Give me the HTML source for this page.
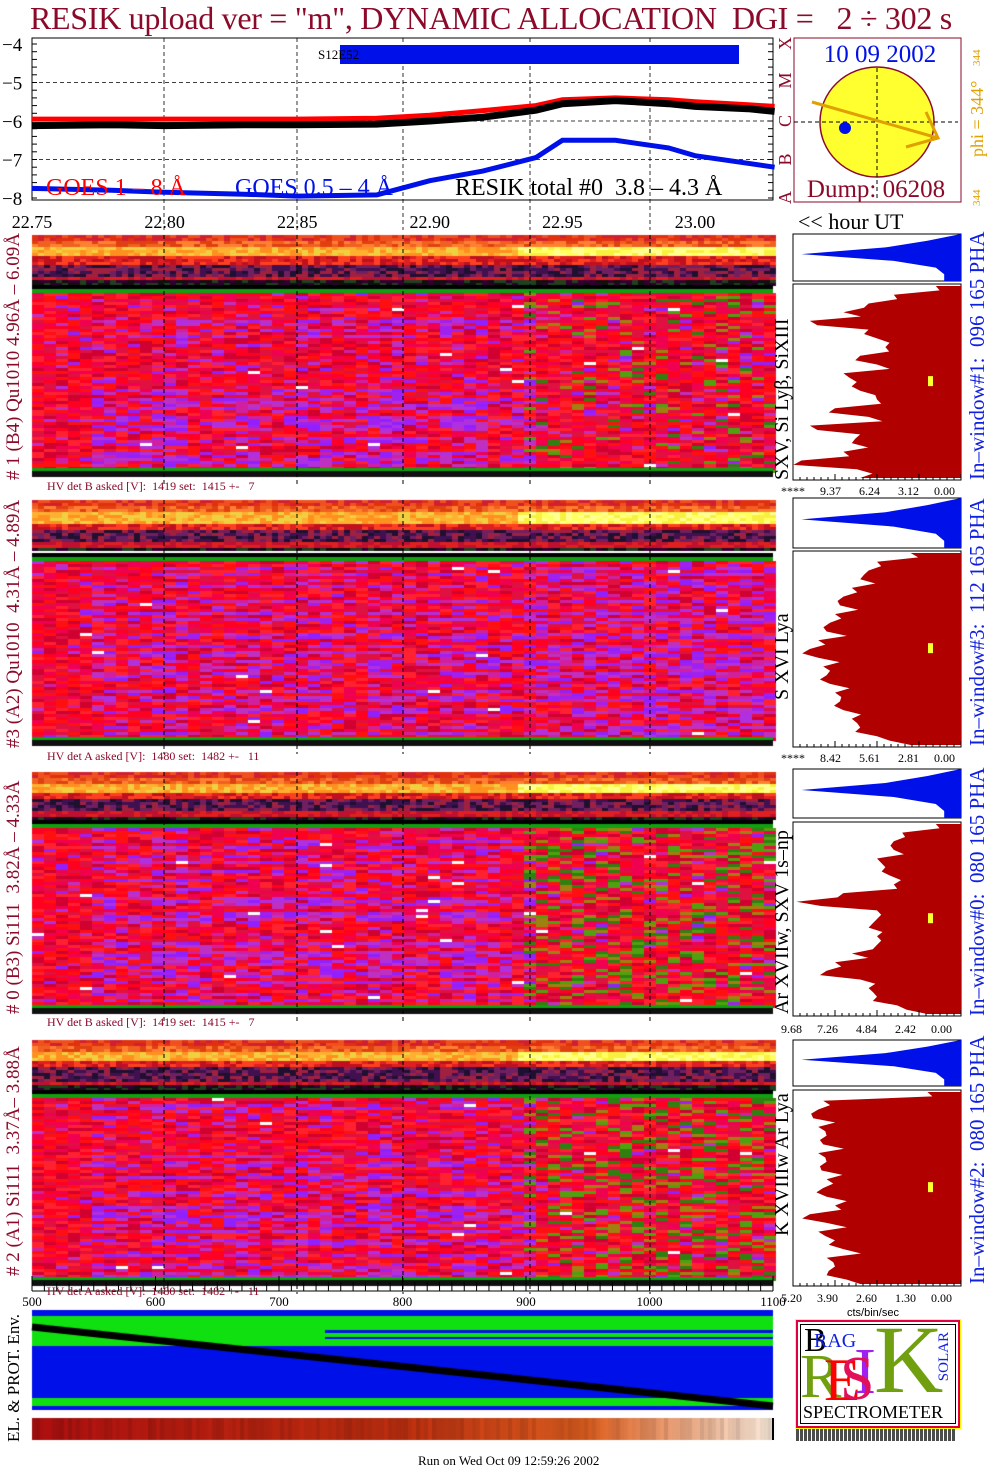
<!DOCTYPE html>
<html><head><meta charset="utf-8">
<style>
html,body{margin:0;padding:0;background:#fff;}
body{width:1004px;height:1476px;position:relative;overflow:hidden;font-family:"Liberation Serif",serif;}
.t{position:absolute;white-space:nowrap;}
canvas{position:absolute;}
.rot{position:absolute;transform-origin:0 0;transform:rotate(-90deg);white-space:nowrap;}
</style></head>
<body>
<div class="t" style="left:30px;top:0px;font-size:32px;color:#8b0a2a;letter-spacing:-0.3px;">RESIK upload ver = "m", DYNAMIC ALLOCATION&nbsp; DGI =&nbsp;&nbsp; 2 ÷ 302 s</div>

<svg id="goes" style="position:absolute;left:0;top:0" width="1004" height="235"></svg>

<canvas id="hm" width="1004" height="1476" style="left:0;top:0"></canvas>
<svg id="ov" style="position:absolute;left:0;top:0" width="1004" height="1476"></svg>

<div class="t" style="left:47px;top:479px;font-size:12px;color:#8b0a2a;">HV det B asked [V]:&nbsp; 1419 set:&nbsp; 1415 +-&nbsp;&nbsp; 7</div>
<div class="t" style="left:47px;top:749px;font-size:12px;color:#8b0a2a;">HV det A asked [V]:&nbsp; 1480 set:&nbsp; 1482 +-&nbsp;&nbsp; 11</div>
<div class="t" style="left:47px;top:1015px;font-size:12px;color:#8b0a2a;">HV det B asked [V]:&nbsp; 1419 set:&nbsp; 1415 +-&nbsp;&nbsp; 7</div>
<div class="t" style="left:47px;top:1284px;font-size:12px;color:#8b0a2a;">HV det A asked [V]:&nbsp; 1480 set:&nbsp; 1482 +-&nbsp;&nbsp; 11</div>

<div class="rot" style="left:3px;top:480px;font-size:19px;color:#8b0a2a;"># 1 (B4) Qu1010 4.96Å – 6.09Å</div>
<div class="rot" style="left:3px;top:748px;font-size:19px;color:#8b0a2a;">#3 (A2) Qu1010&nbsp; 4.31Å – 4.89Å</div>
<div class="rot" style="left:3px;top:1014px;font-size:19px;color:#8b0a2a;"># 0 (B3) Si111&nbsp; 3.82Å – 4.33Å</div>
<div class="rot" style="left:3px;top:1276px;font-size:19px;color:#8b0a2a;"># 2 (A1) Si111&nbsp; 3.37Å– 3.88Å</div>
<div class="rot" style="left:4px;top:1442px;font-size:17px;color:#000;">EL. &amp; PROT. Env.</div>

<div class="rot" style="left:771px;top:480px;font-size:20px;">SXV, Si Lyβ, SiXIII</div>
<div class="rot" style="left:771px;top:700px;font-size:20px;">S XVI Lya</div>
<div class="rot" style="left:771px;top:1014px;font-size:20px;">Ar XVIIw, SXV 1s–np</div>
<div class="rot" style="left:771px;top:1236px;font-size:20px;">K XVIIIw Ar Lya</div>

<div class="rot" style="left:965px;top:480px;font-size:21px;color:#1020e0;">In–window#1:&nbsp; 096 165 PHA</div>
<div class="rot" style="left:965px;top:746px;font-size:21px;color:#1020e0;">In–window#3:&nbsp; 112 165 PHA</div>
<div class="rot" style="left:965px;top:1016px;font-size:21px;color:#1020e0;">In–window#0:&nbsp; 080 165 PHA</div>
<div class="rot" style="left:965px;top:1284px;font-size:21px;color:#1020e0;">In–window#2:&nbsp; 080 165 PHA</div>

<div class="t" style="left:781px;top:484px;font-size:12px;">****&nbsp;&nbsp;&nbsp;&nbsp; 9.37&nbsp;&nbsp;&nbsp;&nbsp;&nbsp; 6.24&nbsp;&nbsp;&nbsp;&nbsp;&nbsp; 3.12&nbsp;&nbsp;&nbsp;&nbsp; 0.00</div>
<div class="t" style="left:781px;top:751px;font-size:12px;">****&nbsp;&nbsp;&nbsp;&nbsp; 8.42&nbsp;&nbsp;&nbsp;&nbsp;&nbsp; 5.61&nbsp;&nbsp;&nbsp;&nbsp;&nbsp; 2.81&nbsp;&nbsp;&nbsp;&nbsp; 0.00</div>
<div class="t" style="left:781px;top:1022px;font-size:12px;">9.68&nbsp;&nbsp;&nbsp;&nbsp; 7.26&nbsp;&nbsp;&nbsp;&nbsp;&nbsp; 4.84&nbsp;&nbsp;&nbsp;&nbsp;&nbsp; 2.42&nbsp;&nbsp;&nbsp;&nbsp; 0.00</div>
<div class="t" style="left:781px;top:1291px;font-size:12px;">5.20&nbsp;&nbsp;&nbsp;&nbsp; 3.90&nbsp;&nbsp;&nbsp;&nbsp;&nbsp; 2.60&nbsp;&nbsp;&nbsp;&nbsp;&nbsp; 1.30&nbsp;&nbsp;&nbsp;&nbsp; 0.00</div>
<div class="t" style="left:847px;top:1307px;font-size:11px;font-family:'Liberation Sans',sans-serif;">cts/bin/sec</div>

<div class="t" style="left:418px;top:1453px;font-size:13px;">Run on Wed Oct 09 12:59:26 2002</div>

<div style="position:absolute;left:796px;top:1320px;width:160px;height:104px;border:2px solid #e00040;outline:1px solid #ff0;background:#fff;overflow:hidden;">
 <div style="position:absolute;left:2px;top:2px;right:2px;bottom:2px;border:1px solid #000;"></div>
 <div class="t" style="left:6px;top:0px;font-size:34px;color:#000;">B</div>
 <div class="t" style="left:16px;top:8px;font-size:20px;color:#1020e0;">RAG</div>
 <div class="t" style="left:2px;top:20px;font-size:62px;color:#70a010;">R</div>
 <div class="t" style="left:26px;top:24px;font-size:60px;color:#f00;">E</div>
 <div class="t" style="left:56px;top:12px;font-size:66px;color:#a020f0;">I</div>
 <div class="t" style="left:42px;top:22px;font-size:62px;color:#e0105a;">S</div>
 <div class="t" style="left:76px;top:-10px;font-size:96px;color:#70a010;line-height:96px;">K</div>
 <div class="t" style="left:138px;top:10px;font-size:15px;color:#1020e0;writing-mode:vertical-rl;transform:rotate(180deg);">SOLAR</div>
 <div class="t" style="left:5px;top:80px;font-size:18px;color:#000;">SPECTROMETER</div>
</div>
<div style="position:absolute;left:796px;top:1429px;width:160px;height:12px;background:repeating-linear-gradient(90deg,#000 0 3px,#fff 3px 4px);opacity:.7;"></div>

<script>
// ---- GOES / RESIK light-curve data ----
const tHours   = [22.75,22.78,22.80,22.83,22.85,22.88,22.90,22.92,22.94,22.95,22.97,22.99,23.00,23.02,23.03];
const goesLong = [-5.95,-5.95,-5.95,-5.95,-5.95,-5.93,-5.85,-5.73,-5.6,-5.45,-5.4,-5.45,-5.5,-5.58,-5.62];
const goesShort= [-7.75,-7.8,-7.85,-7.9,-7.95,-7.92,-7.55,-7.3,-6.95,-6.5,-6.5,-6.7,-6.9,-7.1,-7.2];
const resikTot = [-6.12,-6.1,-6.12,-6.1,-6.1,-6.08,-6.0,-5.9,-5.72,-5.55,-5.47,-5.55,-5.62,-5.68,-5.75];
const xTicks   = ["22.75","22.80","22.85","22.90","22.95","23.00"];
const yTicks   = [-4,-5,-6,-7,-8];
const classLetters = ["A","B","C","M","X"];

const NS="http://www.w3.org/2000/svg";
function mk(p,tag,attrs){const e=document.createElementNS(NS,tag);for(const k in attrs)e.setAttribute(k,attrs[k]);p.appendChild(e);return e;}
const sx=t=>32+(t-22.75)/0.05*132.6;
const sy=v=>44+(-4-v)*38.5;
const g=document.getElementById('goes');
let r=mk(g,'rect',{x:32,y:38,width:741,height:162,fill:'none',stroke:'#000'});

[164,297,403,530,650].forEach(x=>mk(g,'line',{x1:x,y1:38,x2:x,y2:230,stroke:'#000','stroke-dasharray':'4,3','stroke-width':0.8}));
[-5,-6,-7].forEach(v=>mk(g,'line',{x1:32,y1:sy(v),x2:773,y2:sy(v),stroke:'#000','stroke-dasharray':'4,3','stroke-width':0.8}));
yTicks.forEach(v=>{const tx=mk(g,'text',{x:2,y:sy(v)+7,'font-size':19,'font-family':'Liberation Serif'});tx.textContent='−'+(-v);
 });
for(let v=-4;v>=-8.2;v-=0.2){mk(g,'line',{x1:32,y1:sy(v),x2:37,y2:sy(v),stroke:'#000'});mk(g,'line',{x1:768,y1:sy(v),x2:773,y2:sy(v),stroke:'#000'});}
xTicks.forEach(s=>{const t=parseFloat(s);const tx=mk(g,'text',{x:sx(t),y:228,'font-size':18,'text-anchor':'middle','font-family':'Liberation Serif'});tx.textContent=s;
 });
classLetters.forEach((c,i)=>{const y=sy(-8)-i*38.5;const tx=mk(g,'text',{x:0,y:0,'font-size':18,fill:'#8b0a2a','font-family':'Liberation Serif',transform:`translate(791,${y+6}) rotate(-90)`});tx.textContent=c;});
const band=mk(g,'rect',{x:340,y:45,width:399,height:19,fill:'#0010e8'});
let lt=mk(g,'text',{x:318,y:59,'font-size':13,'font-family':'Liberation Serif'});lt.textContent='S12E52';
function series(vals,col,w,name){const d=tHours.map((t,i)=>(i?'L':'M')+sx(t).toFixed(1)+','+sy(vals[i]).toFixed(1)).join('');
 const p=mk(g,'path',{d:d,fill:'none',stroke:col,'stroke-width':w});}
series(goesLong,'#ff0000',5,'goes-1-8-line');
series(resikTot,'#000',7,'resik-total-line');
series(goesShort,'#0010e8',5,'goes-05-4-line');
[['GOES 1 – 8 Å','#f00',46],['GOES 0.5 – 4 Å','#0010e8',235],['RESIK total #0&nbsp; 3.8 – 4.3 Å','#000',455]].forEach(a=>{const tx=mk(g,'text',{x:a[2],y:195,'font-size':24,fill:a[1],'font-family':'Liberation Serif'});tx.innerHTML=a[0];});
// sun
mk(g,'rect',{x:794,y:38,width:167,height:164,fill:'none',stroke:'#8b0a2a'});
mk(g,'ellipse',{cx:877,cy:122,rx:57,ry:55,fill:'#ffff30',stroke:'#8b0a2a','stroke-width':1.5});
mk(g,'line',{x1:794,y1:122,x2:958,y2:122,stroke:'#000','stroke-dasharray':'4,3'});
mk(g,'line',{x1:877,y1:68,x2:877,y2:200,stroke:'#000','stroke-dasharray':'4,3'});
mk(g,'circle',{cx:845,cy:128,r:6,fill:'#0010e8'});
mk(g,'path',{d:'M812,102 L938,138 M926,112 L938,138 L906,147',stroke:'#e0a000','stroke-width':3,fill:'none'});
let st=mk(g,'text',{x:880,y:62,'font-size':25,fill:'#0010e8','text-anchor':'middle','font-family':'Liberation Serif'});st.textContent='10 09 2002';
st=mk(g,'text',{x:876,y:197,'font-size':25,fill:'#8b0a2a','text-anchor':'middle','font-family':'Liberation Serif'});st.textContent='Dump: 06208';
st=mk(g,'text',{x:0,y:0,'font-size':18,fill:'#e0a000','font-family':'Liberation Serif',transform:'translate(983,157) rotate(-90)'});st.textContent='phi = 344°';
st=mk(g,'text',{x:0,y:0,'font-size':11,fill:'#e0a000','font-family':'Liberation Serif',transform:'translate(980,66) rotate(-90)'});st.textContent='344';
st=mk(g,'text',{x:0,y:0,'font-size':11,fill:'#e0a000','font-family':'Liberation Serif',transform:'translate(980,206) rotate(-90)'});st.textContent='344';
st=mk(g,'text',{x:798,y:229,'font-size':22,'font-family':'Liberation Serif'});st.textContent='<< hour UT';

// ---- heatmaps (texture) ----
const panels=[{y0:235,s:50,m0:285,m1:477},{y0:500,s:51,m0:553,m1:746},{y0:772,s:47,m0:820,m1:1014},{y0:1040,s:49,m0:1090,m1:1286}];
const cv=document.getElementById('hm').getContext('2d');
let seed=7;const rnd=()=>{seed=(seed*16807)%2147483647;return seed/2147483647;};
const X0=32,X1=773,CW=12;
const reds=['#ff0020','#e01040','#ff2030','#f00050','#d00030','#ff1010'];
const purps=['#a020f0','#b030e0','#9020ff','#c030c0','#d020a0'];
panels.forEach((p,pi)=>{
 for(let y=p.y0;y<p.y0+p.s;y+=3){const f=(y-p.y0)/p.s;
  for(let x=X0;x<X1;x+=CW/2){const fx=(x-X0)/(X1-X0);let c;
   if(f<0.08)c=['#e03010','#f05020','#d02030'][rnd()*3|0];
   else if(f<0.22)c=['#f06020','#e04010','#ff8030'][rnd()*3|0];
   else if(f<0.42)c=fx>0.65?['#ffff60','#ffff90','#f8f040'][rnd()*3|0]:['#ffb030','#f0d040','#ff9020'][rnd()*3|0];
   else if(f<0.55)c=['#e02020','#ff4020','#c01020'][rnd()*3|0];
   else if(f<0.8)c=['#401050','#702060','#201030','#a02040'][rnd()*4|0];
   else if(f<0.9)c=['#e02020','#c01030'][rnd()*2|0];
   else c=['#101010','#204020','#300030'][rnd()*3|0];
   cv.fillStyle=c;cv.fillRect(x,y,CW/2,3);}}
 cv.fillStyle='#000';cv.fillRect(X0,p.m0,X1-X0,4);
 cv.fillStyle='#10a010';cv.fillRect(X0,p.m0+4,X1-X0,4);
 for(let y=p.m0+8;y<p.m1-6;y+=3){const f=(y-p.m0)/(p.m1-p.m0);
  const rowPurple=rnd()<0.25+f*0.3;
  for(let x=X0;x<X1;x+=CW){const fx=(x-X0)/(X1-X0);const band=Math.floor(fx*20)%2;let c;
   let pp=(fx>0.08&&fx<0.68)?(rowPurple?0.75:0.15)*(band?1:0.6):0.08;
   if(pi==1&&fx>=0.68)pp=rowPurple?0.7:0.25;
   const v=rnd();
   if(fx>0.65&&pi!=1&&rnd()<(pi==0?0.12:0.25))c=['#50a010','#a08010','#308010'][rnd()*3|0];
   else if(v<pp)c=purps[rnd()*5|0];
   else c=reds[rnd()*6|0];
   if(rnd()<0.004)c='#ffffff';
   cv.fillStyle=c;cv.fillRect(x,y,CW,3);}}
 cv.fillStyle='#101010';cv.fillRect(X0,p.m1-6,X1-X0,6);
 cv.fillStyle='#10a010';cv.fillRect(X0,p.m1-9,X1-X0,3);
});
// env panel
cv.fillStyle='#0010e8';cv.fillRect(32,1310,741,100);
cv.fillStyle='#10e010';cv.fillRect(32,1316,741,30);cv.fillRect(32,1398,741,8);
cv.fillStyle='#0010e8';cv.fillRect(325,1330,448,3);cv.fillRect(325,1337,448,2);
cv.strokeStyle='#000';cv.lineWidth=7;cv.beginPath();cv.moveTo(32,1327);cv.lineTo(773,1406);cv.stroke();
const gr=cv.createLinearGradient(32,0,773,0);gr.addColorStop(0,'#b01010');gr.addColorStop(0.5,'#c03010');gr.addColorStop(0.75,'#e06020');gr.addColorStop(1,'#fff0e0');
cv.fillStyle=gr;cv.fillRect(32,1418,741,22);
for(let x=32;x<773;x+=4){cv.fillStyle='rgba(0,0,0,'+(rnd()*0.15)+')';cv.fillRect(x,1418,4,22);}

// ---- overlay: grid lines, axes, histograms ----
const ov=document.getElementById('ov');
panels.forEach(p=>{[164,297,403,530,650].forEach(x=>mk(ov,'line',{x1:x,y1:p.y0,x2:x,y2:p.m1+8,stroke:'#000','stroke-dasharray':'4,3','stroke-width':1}));});
mk(ov,'line',{x1:32,y1:1291,x2:773,y2:1291,stroke:'#000'});
for(let i=0;i<=60;i++){const x=32+i*741/60;mk(ov,'line',{x1:x,y1:1291,x2:x,y2:i%10?1282:1276,stroke:'#000'});}
["500","600","700","800","900","1000","1100"].forEach((s,i)=>{const tx=mk(ov,'text',{x:32+i*123.5,y:1306,'font-size':13,'text-anchor':'middle','font-family':'Liberation Serif'});tx.textContent=s;});
mk(ov,'line',{x1:773,y1:1418,x2:773,y2:1440,stroke:'#000','stroke-width':2});
const hist=[{a:234,b:281,c:284,d:480},{a:498,b:548,c:551,d:747},{a:769,b:818,c:822,d:1016},{a:1040,b:1086,c:1090,d:1286}];
const histWidth=[[0.15,0.4,0.55,0.7,0.9,0.55,0.5,0.45,0.6,0.5,0.7,0.62,0.6,0.5,0.75,0.55,0.9,0.6,0.65,0.7,0.95,0.62,0.6],
 [0.3,0.5,0.55,0.6,0.65,0.7,0.72,0.75,0.78,0.8,0.85,0.9,0.85,0.82,0.8,0.78,0.75,0.72,0.7,0.65,0.6,0.5,0.3],
 [0.15,0.35,0.4,0.4,0.5,0.45,0.42,0.4,0.7,0.98,0.5,0.5,0.55,0.5,0.5,0.65,0.75,0.8,0.6,0.55,0.5,0.38,0.2],
 [0.2,0.82,0.85,0.88,0.85,0.8,0.82,0.85,0.8,0.83,0.8,0.82,0.8,0.75,0.9,0.8,0.85,0.75,0.7,0.8,0.75,0.8,0.6]];
const topW=[0.0,0.2,0.45,0.95,0.4,0.15,0.1,0.1];
hist.forEach((h,hi)=>{const L=793,R=961,W=R-L;
 mk(ov,'rect',{x:L,y:h.a,width:W,height:h.b-h.a,fill:'#fff',stroke:'#000'});
 let d='M'+R+','+h.a;topW.forEach((w,i)=>{d+=' L'+(R-w*W)+','+(h.a+i*(h.b-h.a)/(topW.length-1));});d+=' L'+R+','+h.b+'Z';
 mk(ov,'path',{d:d,fill:'#0010e8'});
 mk(ov,'rect',{x:L,y:h.c,width:W,height:h.d-h.c,fill:'#fff',stroke:'#000'});
 const arr=histWidth[hi];const n=arr.length;let d2='M'+R+','+(h.c+2);
 arr.forEach((w,i)=>{const y=h.c+2+i*(h.d-h.c-4)/(n-1);d2+=' L'+(R-w*W).toFixed(1)+','+y.toFixed(1);
   if(i<n-1){const y2=y+(h.d-h.c-4)/(n-1)/2;d2+=' L'+(R-w*W*(0.85+0.1*((i*7)%3))).toFixed(1)+','+y2.toFixed(1);}});
 d2+=' L'+R+','+(h.d-2)+'Z';
 const hp=mk(ov,'path',{d:d2,fill:'#b00000'});
 mk(ov,'rect',{x:928,y:h.c+(h.d-h.c)*0.47,width:5,height:10,fill:'#ffff30'});
 for(let i=0;i<=24;i++){const x=L+i*W/24;mk(ov,'line',{x1:x,y1:h.d,x2:x,y2:h.d-(i%6?3:6),stroke:'#000'});}
});
</script>
</body></html>
